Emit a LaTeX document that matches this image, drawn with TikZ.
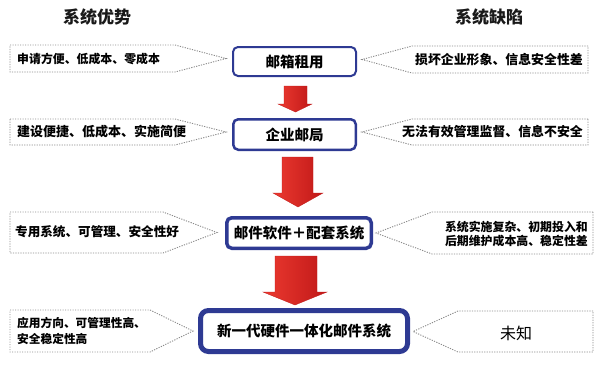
\documentclass[tikz,border=0pt]{standalone}
\usepackage{fontspec}
\newfontfamily\cjk{Noto Sans CJK SC}
\definecolor{boxblue}{HTML}{2E3A93}
\definecolor{arrowlight}{HTML}{EC3A30}
\definecolor{arrowdark}{HTML}{C01818}
\definecolor{dotgray}{HTML}{8A8A8A}
\begin{document}
\begin{tikzpicture}[x=1pt,y=-1pt,
  title/.style={inner sep=0pt, font={\cjk\bfseries\fontsize{17}{20}\selectfont}, text=black!90},
  box/.style={draw=boxblue, fill=white, rounded corners=5pt, inner sep=0pt, font={\cjk\bfseries\fontsize{14.5}{16}\selectfont}},
  callout/.style={draw=dotgray, line width=0.9pt, dash pattern=on 1.2pt off 1.3pt},
  ctext/.style={inner sep=0pt, font={\cjk\bfseries\fontsize{12}{14}\selectfont}, text=black},
  bigarrow/.style={left color=arrowlight, right color=arrowdark, draw=arrowdark, line width=0.3pt}]

\useasboundingbox (0,0) rectangle (600,367);

% titles
\node[title] (tl) at (97,17) {系统优势};
\node[title] (tr) at (489,17) {系统缺陷};

% central boxes
\node[box, line width=2pt, minimum width=123pt, minimum height=29pt] (b1) at (294.5,61.5) {邮箱租用};
\node[box, line width=2.5pt, minimum width=122.5pt, minimum height=30.5pt] (b2) at (294.5,134.5) {企业邮局};
\node[box, line width=3.5pt, minimum width=144.5pt, minimum height=30.5pt] (b3) at (299,233) {邮件软件＋配套系统};
\node[box, line width=5pt, rounded corners=8pt, minimum width=207pt, minimum height=41pt] (b4) at (304,331) {新一代硬件一体化邮件系统};

% block arrows
\shade[bigarrow] (284,86) -- (307,86) -- (307,104) -- (312,104) -- (295.5,112) -- (278,104) -- (284,104) -- cycle;
\shade[bigarrow] (282,157) -- (313,157) -- (313,193) -- (323,193) -- (298,207) -- (273,193) -- (282,193) -- cycle;
\shade[bigarrow] (275,256) -- (317,256) -- (317,292) -- (327,292) -- (295,305) -- (263,292) -- (275,292) -- cycle;

% left callouts
\draw[callout] (10,45) -- (175,45) -- (226,58.5) -- (175,72) -- (10,72) -- cycle;
\node[ctext, anchor=west, font={\cjk\bfseries\fontsize{11.9}{14}\selectfont}] (l1) at (17,59) {申请方便、低成本、零成本};

\draw[callout] (10,119) -- (175,119) -- (226,132) -- (175,145) -- (10,145) -- cycle;
\node[ctext, anchor=west, font={\cjk\bfseries\fontsize{13}{15}\selectfont}] (l2) at (17,132) {建设便捷、低成本、实施简便};

\draw[callout] (10,212) -- (163,212) -- (217,232.5) -- (163,253) -- (10,253) -- cycle;
\node[ctext, anchor=west, font={\cjk\bfseries\fontsize{12.6}{15}\selectfont}] (l3) at (15,232) {专用系统、可管理、安全性好};

\draw[callout] (10,310) -- (150,310) -- (193,331) -- (150,352) -- (10,352) -- cycle;
\node[ctext, anchor=west, align=left, font={\cjk\bfseries\fontsize{11.7}{16}\selectfont}] (l4) at (17,331) {应用方向、可管理性高、\\安全稳定性高};

% right callouts
\draw[callout] (588,46) -- (412,46) -- (362,59.5) -- (412,73) -- (588,73) -- cycle;
\node[ctext, anchor=east, font={\cjk\bfseries\fontsize{12.9}{15}\selectfont}] (r1) at (583,60) {损坏企业形象、信息安全性差};

\draw[callout] (588,119) -- (412,119) -- (362,132) -- (412,145) -- (588,145) -- cycle;
\node[ctext, anchor=east, font={\cjk\bfseries\fontsize{12.9}{15}\selectfont}] (r2) at (583,132) {无法有效管理监督、信息不安全};

\draw[callout] (593,212) -- (432,212) -- (376,233) -- (432,254) -- (593,254) -- cycle;
\node[ctext, anchor=east, align=center, font={\cjk\bfseries\fontsize{11.9}{14}\selectfont}] (r3) at (588,233.5) {系统实施复杂、初期投入和\\后期维护成本高、稳定性差};

\draw[callout] (593,311) -- (458,311) -- (413,331.5) -- (458,352) -- (593,352) -- cycle;
\node[ctext, font={\cjk\fontsize{16}{18}\selectfont}] (r4) at (516,333) {未知};
\end{tikzpicture}
\end{document}
